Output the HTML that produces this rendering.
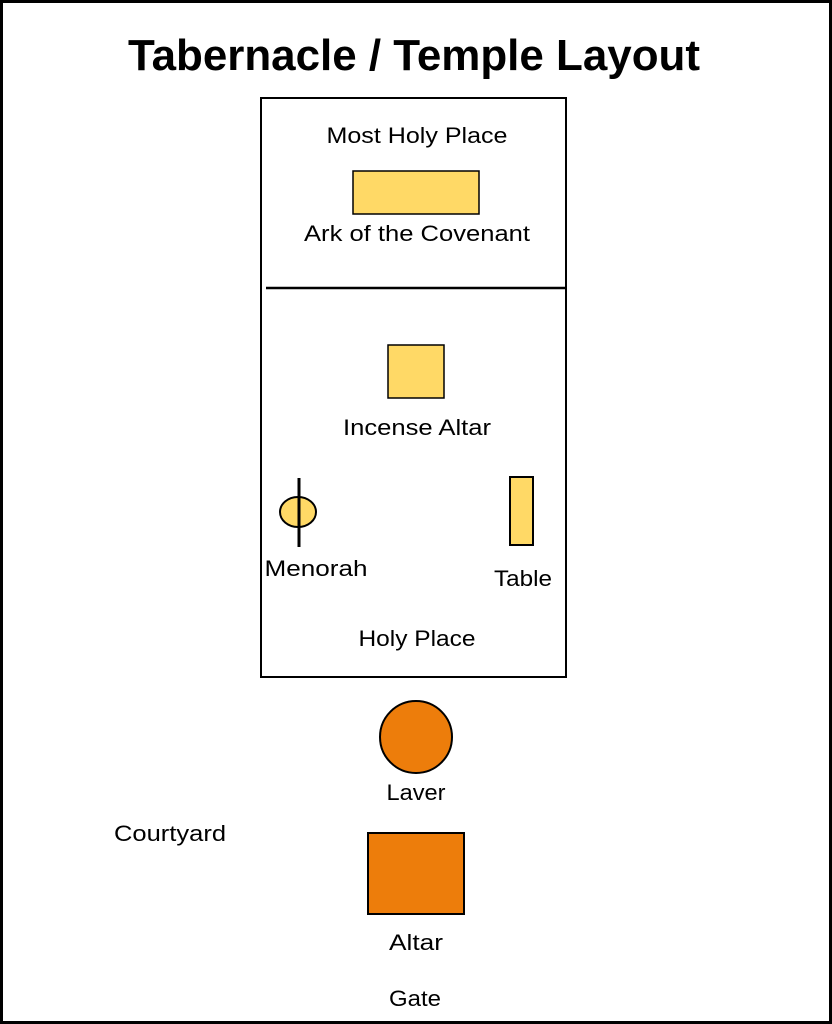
<!DOCTYPE html>
<html><head><meta charset="utf-8"><style>
html,body{margin:0;padding:0;background:#fff;}
svg{display:block;}
text{font-family:"Liberation Sans",sans-serif;fill:#000;}
</style></head><body>
<svg width="832" height="1024" viewBox="0 0 832 1024" xmlns="http://www.w3.org/2000/svg">
<rect x="1.5" y="1.5" width="829" height="1021" fill="#fff" stroke="#000" stroke-width="3"/>
<text x="414" y="70" font-size="44" font-weight="bold" text-anchor="middle" textLength="572" lengthAdjust="spacingAndGlyphs">Tabernacle / Temple Layout</text>
<rect x="261" y="98" width="305" height="579" fill="#fff" stroke="#000" stroke-width="2"/>
<line x1="266" y1="288" x2="566" y2="288" stroke="#000" stroke-width="2.5"/>
<text x="417" y="143" font-size="22" text-anchor="middle" textLength="181" lengthAdjust="spacingAndGlyphs">Most Holy Place</text>
<rect x="353" y="171" width="126" height="43" fill="#FFD966" stroke="#000" stroke-width="1.5"/>
<text x="417" y="241" font-size="22" text-anchor="middle" textLength="226" lengthAdjust="spacingAndGlyphs">Ark of the Covenant</text>
<rect x="388" y="345" width="56" height="53" fill="#FFD966" stroke="#000" stroke-width="1.5"/>
<text x="417" y="435" font-size="22" text-anchor="middle" textLength="148" lengthAdjust="spacingAndGlyphs">Incense Altar</text>
<ellipse cx="298" cy="512" rx="18" ry="15" fill="#FFD966" stroke="#000" stroke-width="2"/>
<line x1="299" y1="478" x2="299" y2="547" stroke="#000" stroke-width="3"/>
<text x="316" y="576" font-size="22" text-anchor="middle" textLength="103" lengthAdjust="spacingAndGlyphs">Menorah</text>
<rect x="510" y="477" width="23" height="68" fill="#FFD966" stroke="#000" stroke-width="2"/>
<text x="523" y="586" font-size="22" text-anchor="middle" textLength="58" lengthAdjust="spacingAndGlyphs">Table</text>
<text x="417" y="646" font-size="22" text-anchor="middle" textLength="117" lengthAdjust="spacingAndGlyphs">Holy Place</text>
<circle cx="416" cy="737" r="36" fill="#ED7D0B" stroke="#000" stroke-width="2"/>
<text x="416" y="800" font-size="22" text-anchor="middle" textLength="59" lengthAdjust="spacingAndGlyphs">Laver</text>
<text x="170" y="841" font-size="22" text-anchor="middle" textLength="112" lengthAdjust="spacingAndGlyphs">Courtyard</text>
<rect x="368" y="833" width="96" height="81" fill="#ED7D0B" stroke="#000" stroke-width="2"/>
<text x="416" y="950" font-size="22" text-anchor="middle" textLength="54" lengthAdjust="spacingAndGlyphs">Altar</text>
<text x="415" y="1006" font-size="22" text-anchor="middle" textLength="52" lengthAdjust="spacingAndGlyphs">Gate</text>
</svg>
</body></html>
